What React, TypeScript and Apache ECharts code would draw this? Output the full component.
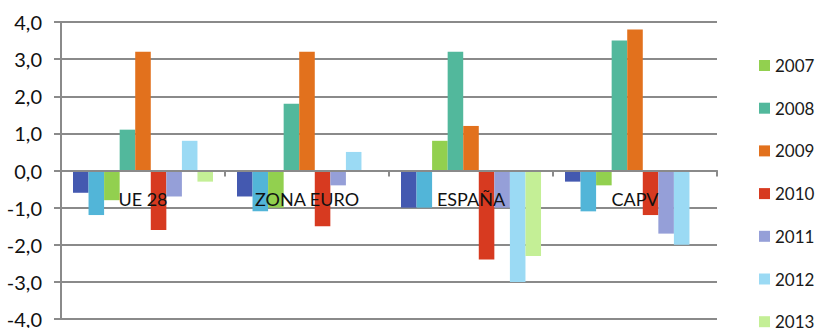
import React, { useEffect, useRef } from "react";
import * as echarts from "echarts";

const categories = ["UE 28", "ZONA EURO", "ESPAÑA", "CAPV"];
const years = ["2005", "2006", "2007", "2008", "2009", "2010", "2011", "2012", "2013"];
const legendYears = ["2007", "2008", "2009", "2010", "2011", "2012", "2013"];
const v2005 = [-0.6, -0.7, -1.0, -0.3];
const v2006 = [-1.2, -1.1, -1.0, -1.1];
const v2007 = [-0.8, -1.0, 0.8, -0.4];
const v2008 = [1.1, 1.8, 3.2, 3.5];
const v2009 = [3.2, 3.2, 1.2, 3.8];
const v2010 = [-1.6, -1.5, -2.4, -1.2];
const v2011 = [-0.7, -0.4, -1.0, -1.7];
const v2012 = [0.8, 0.5, -3.0, -2.0];
const v2013 = [-0.3, 0.0, -2.3, 0.0];
const seriesValues = [v2005, v2006, v2007, v2008, v2009, v2010, v2011, v2012, v2013];
const colors = ["#4459B0", "#52B5D8", "#92D04F", "#52B89C", "#E2711D", "#D73A20", "#959FD8", "#9BDAF4", "#C4EF96"];
const yTicks = { min: -4, max: 4, interval: 1 };

const FONT = "Lato, 'Open Sans', sans-serif";
const GRID = { left: 61, right: 99, top: 22, bottom: 9 };
const PLOT_H = 328 - GRID.top - GRID.bottom;
// distance from the bottom of the plot up to the value 0
const ZERO_OFFSET = -PLOT_H * ((0 - yTicks.min) / (yTicks.max - yTicks.min));

export default function App() {
  const ref = useRef<HTMLDivElement>(null);
  useEffect(() => {
    if (!ref.current) return;
    const chart = echarts.init(ref.current, undefined, { renderer: "svg" });
    chart.setOption({
      animation: false,
      grid: { ...GRID, containLabel: false, outerBoundsMode: "none" },
      legend: {
        orient: "vertical",
        left: 754,
        top: 52,
        height: 340,
        data: legendYears,
        itemWidth: 11,
        itemHeight: 11,
        itemGap: 25.7,
        icon: "rect",
        textStyle: { fontFamily: FONT, fontSize: 17, color: "#1a1a1a" },
      },
      xAxis: {
        type: "category",
        data: categories,
        position: "bottom",
        offset: ZERO_OFFSET,
        z: 5,
        axisLine: { onZero: false, lineStyle: { color: "#8a8a8a", width: 2 } },
        axisTick: { show: true, alignWithLabel: false, length: 6, lineStyle: { color: "#8a8a8a", width: 2 } },
        axisLabel: { margin: 19, fontFamily: FONT, fontSize: 18, color: "#111" },
        splitLine: { show: false },
      },
      yAxis: {
        type: "value",
        min: yTicks.min,
        max: yTicks.max,
        interval: yTicks.interval,
        axisLine: { show: true, lineStyle: { color: "#8a8a8a", width: 2 } },
        axisTick: { show: true, length: 7, lineStyle: { color: "#8a8a8a", width: 2 } },
        axisLabel: {
          margin: 19,
          fontFamily: FONT,
          fontSize: 20,
          color: "#111",
          formatter: (v: number) => v.toFixed(1).replace(".", ","),
        },
        splitLine: { show: true, lineStyle: { color: "#8a8a8a", width: 2 } },
      },
      series: years.map((y, i) => ({
        name: y,
        type: "bar",
        data: seriesValues[i],
        barGap: "0%",
        barCategoryGap: "14.6%",
        itemStyle: { color: colors[i] },
      })),
    });
    return () => chart.dispose();
  }, []);
  return <div ref={ref} style={{ width: 816, height: 328, position: "absolute", left: 0, top: 0 }} />;
}
